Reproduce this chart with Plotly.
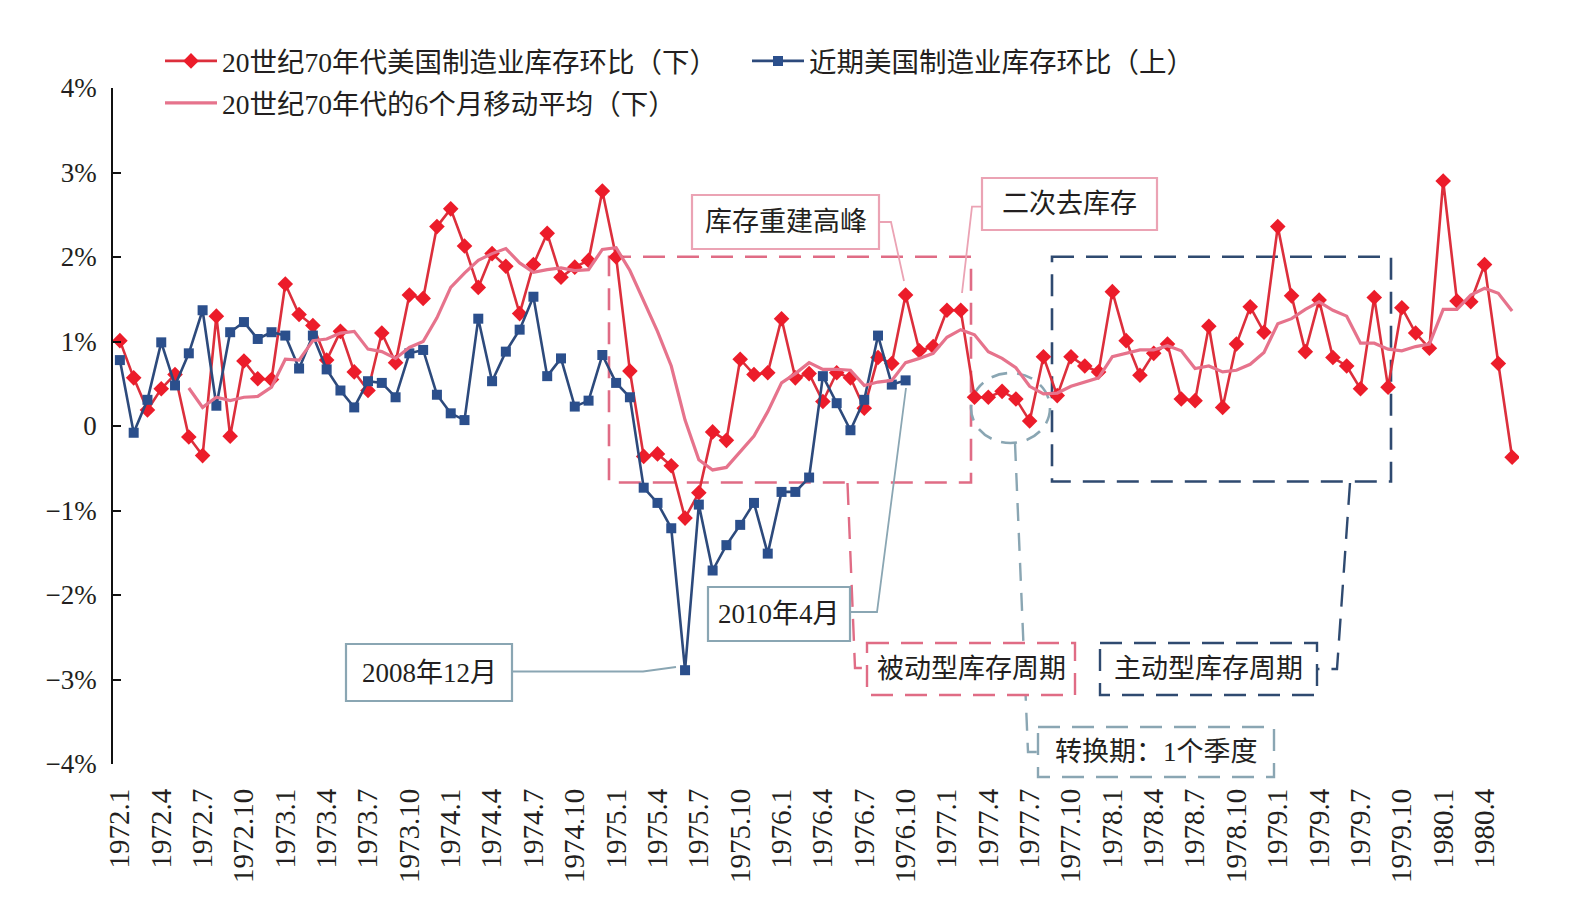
import plotly.graph_objects as go

# ---------------- data ----------------
months = [f"{1972 + k // 12}.{k % 12 + 1}" for k in range(102)]

red_1970s = [1.01, 0.57, 0.19, 0.44, 0.61, -0.13, -0.35, 1.30, -0.12, 0.77,
             0.56, 0.55, 1.68, 1.32, 1.19, 0.78, 1.12, 0.64, 0.42, 1.10,
             0.75, 1.55, 1.51, 2.36, 2.57, 2.13, 1.64, 2.04, 1.89, 1.33,
             1.91, 2.28, 1.76, 1.88, 1.96, 2.78, 2.00, 0.65, -0.36, -0.33,
             -0.47, -1.09, -0.79, -0.07, -0.17, 0.79, 0.61, 0.63, 1.27, 0.57,
             0.62, 0.29, 0.63, 0.57, 0.21, 0.81, 0.74, 1.55, 0.89, 0.94,
             1.37, 1.37, 0.34, 0.34, 0.41, 0.32, 0.06, 0.82, 0.36, 0.82,
             0.71, 0.64, 1.59, 1.01, 0.60, 0.86, 0.97, 0.32, 0.30, 1.18,
             0.22, 0.97, 1.41, 1.11, 2.36, 1.54, 0.88, 1.49, 0.81, 0.71,
             0.44, 1.52, 0.46, 1.40, 1.10, 0.92, 2.90, 1.48, 1.47, 1.91,
             0.74, -0.37]

blue_recent = [0.78, -0.08, 0.31, 0.99, 0.48, 0.86, 1.37, 0.24, 1.11, 1.23,
               1.03, 1.11, 1.07, 0.68, 1.07, 0.67, 0.42, 0.22, 0.53, 0.51,
               0.34, 0.86, 0.90, 0.37, 0.15, 0.07, 1.27, 0.53, 0.88, 1.14,
               1.53, 0.59, 0.80, 0.23, 0.30, 0.84, 0.51, 0.34, -0.73, -0.91,
               -1.21, -2.89, -0.93, -1.71, -1.41, -1.17, -0.91, -1.51, -0.78, -0.78,
               -0.61, 0.59, 0.27, -0.05, 0.31, 1.07, 0.49, 0.54]

ma6_1970s = [0.45, 0.22, 0.34, 0.30, 0.34, 0.35, 0.46, 0.79, 0.78, 1.01,
             1.03, 1.10, 1.12, 0.91, 0.88, 0.80, 0.93, 1.00, 1.28, 1.64,
             1.81, 1.96, 2.04, 2.10, 1.93, 1.82, 1.85, 1.87, 1.84, 1.85,
             2.09, 2.11, 1.84, 1.49, 1.12, 0.71, 0.07, -0.40, -0.52, -0.49,
             -0.30, -0.12, 0.17, 0.51, 0.62, 0.75, 0.67, 0.67, 0.66, 0.48,
             0.52, 0.54, 0.75, 0.80, 0.86, 1.05, 1.14, 1.08, 0.88, 0.80,
             0.69, 0.47, 0.38, 0.39, 0.47, 0.52, 0.57, 0.82, 0.86, 0.90,
             0.90, 0.95, 0.89, 0.68, 0.71, 0.64, 0.66, 0.73, 0.87, 1.21,
             1.27, 1.38, 1.47, 1.37, 1.30, 0.98, 0.98, 0.91, 0.89, 0.94,
             0.97, 1.38, 1.38, 1.55, 1.63, 1.57, 1.36]
ma6_months = months[5:]

y_tick_vals = [-4, -3, -2, -1, 0, 1, 2, 3, 4]
y_tick_text = ["\u22124%", "\u22123%", "\u22122%", "\u22121%", "0", "1%", "2%", "3%", "4%"]
x_tick_labels = months[::3]

name_red = "20世纪70年代美国制造业库存环比（下）"
name_blue = "近期美国制造业库存环比（上）"
name_ma = "20世纪70年代的6个月移动平均（下）"

# ---------------- layout helpers (pixel -> paper) ----------------
W, H = 1586, 899
L, R, T, B = 113, 1519, 88, 764
def fx(px):
    return (px - L) / (R - L)
def fy(py):
    return (B - py) / (B - T)

FONT = "Liberation Serif, 'Times New Roman', 'Noto Sans CJK SC', serif"
TXT = "#231f20"
RED_L, RED_M = "#dc2f3c", "#ec1c2a"
BLUE_L, BLUE_M = "#2d4a7c", "#2b4f8c"
PINK = "#e6738c"
PINK_D = "#e06c85"
PINK_S = "#eba3b4"
NAVY_D = "#2f4a70"
GRAY = "#8aa6b3"

fig = go.Figure()
fig.add_trace(go.Scatter(x=months, y=red_1970s, name=name_red, mode="lines+markers",
                         line=dict(color=RED_L, width=2.6),
                         marker=dict(symbol="diamond", size=12, color=RED_M),
                         legend="legend", legendrank=1))
fig.add_trace(go.Scatter(x=months[:len(blue_recent)], y=blue_recent, name=name_blue,
                         mode="lines+markers",
                         line=dict(color=BLUE_L, width=2.6),
                         marker=dict(symbol="square", size=10, color=BLUE_M),
                         legend="legend", legendrank=2))
fig.add_trace(go.Scatter(x=ma6_months, y=ma6_1970s, name=name_ma, mode="lines",
                         line=dict(color=PINK, width=3.2),
                         legend="legend2", legendrank=3))

shapes = []
def rect(x0, y0, x1, y1, color, width=2.5, dash="solid", fill="rgba(0,0,0,0)"):
    shapes.append(dict(type="rect", xref="paper", yref="paper",
                       x0=fx(x0), x1=fx(x1), y0=fy(y0), y1=fy(y1),
                       line=dict(color=color, width=width, dash=dash),
                       fillcolor=fill, layer="below"))
def path(pts, color, width=2, dash="solid"):
    d = "M " + " L ".join(f"{fx(px):.5f},{fy(py):.5f}" for px, py in pts)
    shapes.append(dict(type="path", xref="paper", yref="paper", path=d,
                       line=dict(color=color, width=width, dash=dash), layer="below"))

DASH = "22px,12px"
# big dashed regions
rect(609, 256.7, 971, 482.5, PINK_D, 2.6, DASH)
rect(1052, 256.7, 1391, 481.5, NAVY_D, 2.6, DASH)
shapes.append(dict(type="circle", xref="paper", yref="paper",
                   x0=fx(971), x1=fx(1050), y0=fy(373), y1=fy(443),
                   line=dict(color=GRAY, width=2.6, dash="16px,10px"), layer="below"))
# connectors
path([(1015, 443), (1028, 752), (1038, 752)], GRAY, 2.4, "18px,12px")
path([(847.5, 483), (855, 668), (867, 668)], PINK_D, 2.4, DASH)
path([(1350, 483), (1337, 669), (1317, 669)], NAVY_D, 2.4, DASH)
path([(879, 222), (891, 222), (904, 281)], PINK_S, 1.8)
path([(982, 206.7), (972, 206.7), (962, 293)], PINK_S, 1.8)
path([(850, 612), (877, 612), (906, 388)], GRAY, 1.8)
path([(512, 671.5), (643, 671.5), (676, 667)], GRAY, 1.8)
# text boxes
rect(692, 195, 879, 249, PINK_S, 2.2, "solid", "white")
rect(982, 178, 1157, 230, PINK_S, 2.2, "solid", "white")
rect(708, 587, 850, 641, GRAY, 2.2, "solid", "white")
rect(346, 644, 512, 701, GRAY, 2.2, "solid", "white")
rect(867, 643, 1075, 695, PINK_D, 2.4, DASH, "white")
rect(1100, 643, 1317, 695, NAVY_D, 2.4, DASH, "white")
rect(1038, 727, 1274, 777, GRAY, 2.4, DASH, "white")

annos = []
def label(text, x0, y0, x1, y1, size=27):
    annos.append(dict(text=text, xref="paper", yref="paper",
                      x=fx((x0 + x1) / 2), y=fy((y0 + y1) / 2),
                      xanchor="center", yanchor="middle", showarrow=False,
                      font=dict(family=FONT, size=size, color=TXT)))
label("库存重建高峰", 692, 195, 879, 249)
label("二次去库存", 982, 178, 1157, 230)
label("2010年4月", 708, 587, 850, 641)
label("2008年12月", 346, 644, 512, 701)
label("被动型库存周期", 867, 643, 1075, 695)
label("主动型库存周期", 1100, 643, 1317, 695)
label("转换期：1个季度", 1038, 727, 1274, 777)

fig.update_layout(
    width=W, height=H,
    margin=dict(l=L, r=W - R, t=T, b=H - B, pad=0),
    paper_bgcolor="white", plot_bgcolor="white",
    font=dict(family=FONT, color=TXT),
    shapes=shapes, annotations=annos,
    xaxis=dict(type="category", categoryorder="array", categoryarray=months,
               range=[-0.5, len(months) - 0.5],
               tickmode="array", tickvals=x_tick_labels, ticktext=x_tick_labels,
               tickangle=-90, tickfont=dict(family=FONT, size=29, color=TXT),
               showline=False, ticks="", showgrid=False, zeroline=False,
               ticklabelstandoff=18),
    xaxis2=dict(overlaying="x", anchor="free", position=0.5, type="linear",
                range=[-0.5, len(months) - 0.5],
                tickmode="array", tickvals=[k + 2.5 for k in range(0, 99, 3)],
                showticklabels=False, ticks="inside", ticklen=8, tickwidth=1.6,
                tickcolor="#111", showline=True, linecolor="#111", linewidth=1.8,
                showgrid=False, zeroline=False),
    yaxis=dict(range=[-4, 4], tickmode="array", tickvals=y_tick_vals, ticktext=y_tick_text,
               ticks="inside", ticklen=8, tickwidth=1.6, tickcolor="#111",
               showline=True, linecolor="#111", linewidth=1.8,
               showgrid=False, zeroline=False,
               tickfont=dict(family=FONT, size=27, color=TXT), ticklabelstandoff=9),
    legend=dict(x=fx(160), y=fy(61), xanchor="left", yanchor="middle",
                orientation="h", bgcolor="rgba(0,0,0,0)",
                font=dict(family=FONT, size=27.5, color=TXT),
                entrywidth=520, entrywidthmode="pixels", itemwidth=52),
    legend2=dict(x=fx(160), y=fy(103), xanchor="left", yanchor="middle",
                 orientation="h", bgcolor="rgba(0,0,0,0)",
                 font=dict(family=FONT, size=27.5, color=TXT), itemwidth=52),
    showlegend=True,
)

fig.write_html("out.html")
